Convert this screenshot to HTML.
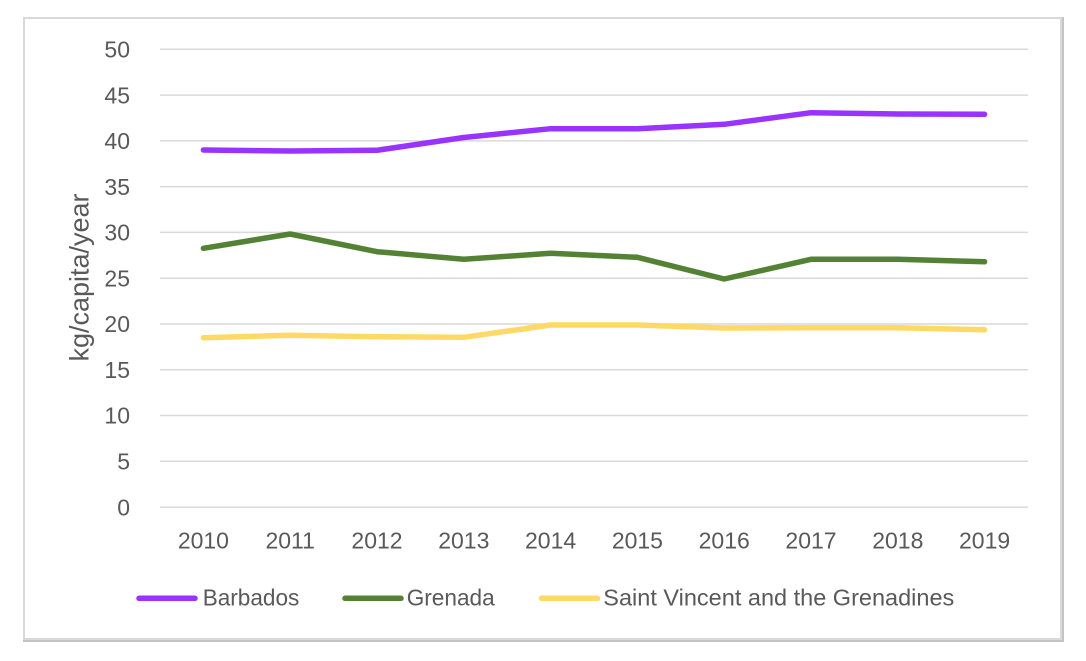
<!DOCTYPE html>
<html>
<head>
<meta charset="utf-8">
<style>
  html, body { margin: 0; padding: 0; background: #ffffff; }
  svg { display: block; }
  text { font-family: "Liberation Sans", Arial, sans-serif; fill: #595959; }
</style>
</head>
<body>
<svg width="1086" height="661" viewBox="0 0 1086 661" xmlns="http://www.w3.org/2000/svg">
  <rect x="0" y="0" width="1086" height="661" fill="#ffffff"/>
  <!-- outer frame -->
  <line x1="1062.5" y1="17" x2="1062.5" y2="642" stroke="#c4c4c4" stroke-width="3"/>
  <line x1="23" y1="640.5" x2="1064" y2="640.5" stroke="#c4c4c4" stroke-width="3"/>
  <rect x="24" y="18" width="1037" height="621" fill="none" stroke="#d9d9d9" stroke-width="2"/>

  <!-- gridlines -->
  <g stroke="#d9d9d9" stroke-width="1.5">
    <line x1="160" y1="49.3" x2="1028" y2="49.3"/>
    <line x1="160" y1="95.1" x2="1028" y2="95.1"/>
    <line x1="160" y1="140.9" x2="1028" y2="140.9"/>
    <line x1="160" y1="186.6" x2="1028" y2="186.6"/>
    <line x1="160" y1="232.4" x2="1028" y2="232.4"/>
    <line x1="160" y1="278.2" x2="1028" y2="278.2"/>
    <line x1="160" y1="324.0" x2="1028" y2="324.0"/>
    <line x1="160" y1="369.8" x2="1028" y2="369.8"/>
    <line x1="160" y1="415.5" x2="1028" y2="415.5"/>
    <line x1="160" y1="461.3" x2="1028" y2="461.3"/>
    <line x1="160" y1="507.1" x2="1028" y2="507.1"/>
  </g>

  <!-- y tick labels -->
  <g font-size="23" text-anchor="end">
    <text x="130" y="57.5">50</text>
    <text x="130" y="103.3">45</text>
    <text x="130" y="149.1">40</text>
    <text x="130" y="194.8">35</text>
    <text x="130" y="240.6">30</text>
    <text x="130" y="286.4">25</text>
    <text x="130" y="332.2">20</text>
    <text x="130" y="378.0">15</text>
    <text x="130" y="423.7">10</text>
    <text x="130" y="469.5">5</text>
    <text x="130" y="515.3">0</text>
  </g>

  <!-- y axis title -->
  <text x="0" y="0" font-size="27" text-anchor="middle" textLength="168" lengthAdjust="spacingAndGlyphs" transform="translate(88.5,277.5) rotate(-90)">kg/capita/year</text>

  <!-- x tick labels -->
  <g font-size="23" text-anchor="middle">
    <text x="203.4" y="548.3">2010</text>
    <text x="290.2" y="548.3">2011</text>
    <text x="377.0" y="548.3">2012</text>
    <text x="463.8" y="548.3">2013</text>
    <text x="550.6" y="548.3">2014</text>
    <text x="637.4" y="548.3">2015</text>
    <text x="724.2" y="548.3">2016</text>
    <text x="811.0" y="548.3">2017</text>
    <text x="897.8" y="548.3">2018</text>
    <text x="984.6" y="548.3">2019</text>
  </g>

  <!-- series -->
  <g fill="none" stroke-width="5.5" stroke-linecap="round" stroke-linejoin="round">
    <polyline stroke="#FFD966" points="203.4,337.7 290.2,335.3 377.0,336.7 463.8,337.3 550.6,325.0 637.4,325.0 724.2,328.0 811.0,327.7 897.8,327.7 984.6,329.7"/>
    <polyline stroke="#548235" points="203.4,248.3 290.2,234.0 377.0,251.7 463.8,259.3 550.6,253.3 637.4,257.3 724.2,279.0 811.0,259.3 897.8,259.3 984.6,261.7"/>
    <polyline stroke="#9933FF" points="203.4,150.0 290.2,151.0 377.0,150.3 463.8,137.5 550.6,128.7 637.4,128.7 724.2,124.3 811.0,112.7 897.8,114.0 984.6,114.3"/>
  </g>

  <!-- legend -->
  <g stroke-width="5.5" stroke-linecap="round">
    <line x1="139" y1="598.3" x2="195" y2="598.3" stroke="#9933FF"/>
    <line x1="345" y1="598.3" x2="401" y2="598.3" stroke="#548235"/>
    <line x1="541.5" y1="598.3" x2="597.5" y2="598.3" stroke="#FFD966"/>
  </g>
  <g font-size="23">
    <text x="202.7" y="605.7" textLength="96.6" lengthAdjust="spacingAndGlyphs">Barbados</text>
    <text x="406.7" y="605.7" textLength="88" lengthAdjust="spacingAndGlyphs">Grenada</text>
    <text x="603.3" y="605.7" textLength="351" lengthAdjust="spacingAndGlyphs">Saint Vincent and the Grenadines</text>
  </g>
</svg>
</body>
</html>
